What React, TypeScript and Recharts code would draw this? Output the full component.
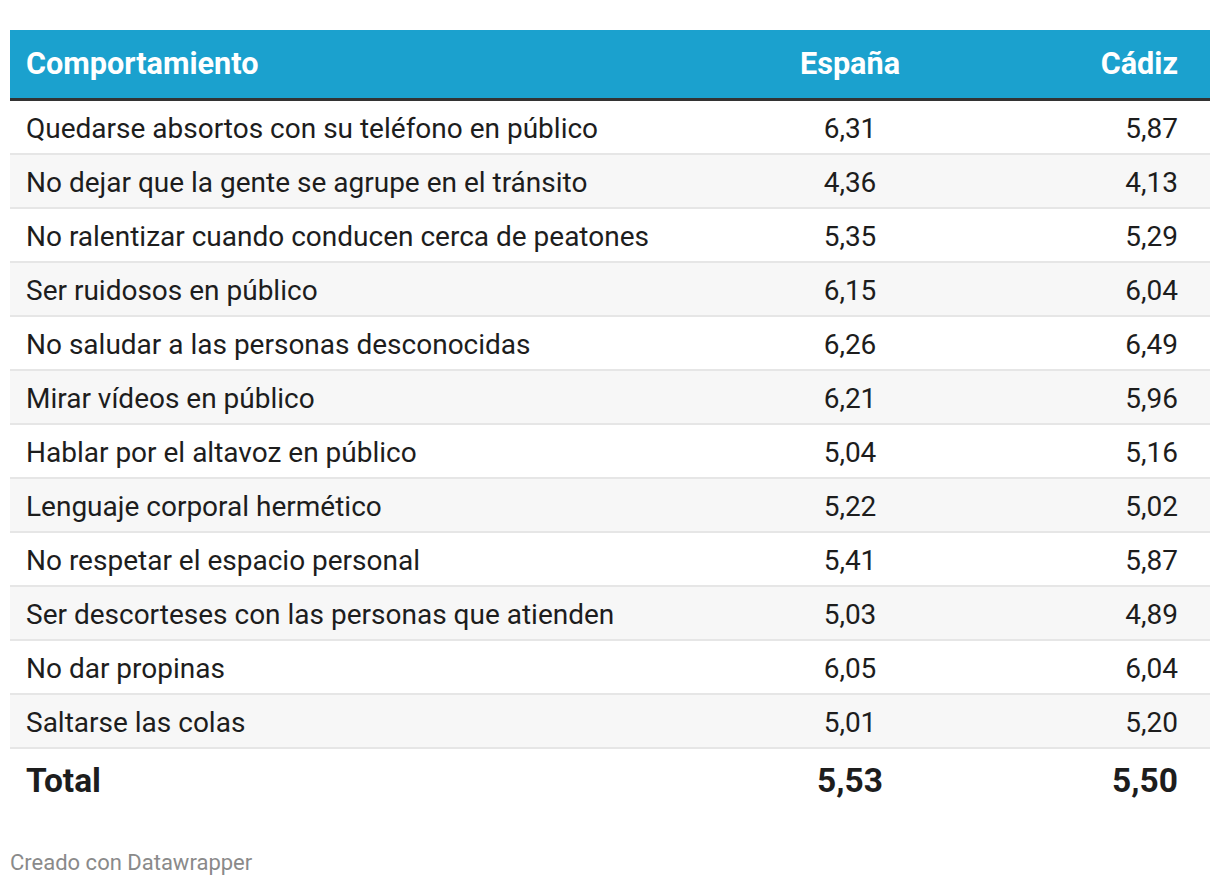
import { ComposedChart, Bar, XAxis, YAxis, LabelList } from "recharts";

const categories = [
    "Quedarse absortos con su teléfono en público",
    "No dejar que la gente se agrupe en el tránsito",
    "No ralentizar cuando conducen cerca de peatones",
    "Ser ruidosos en público",
    "No saludar a las personas desconocidas",
    "Mirar vídeos en público",
    "Hablar por el altavoz en público",
    "Lenguaje corporal hermético",
    "No respetar el espacio personal",
    "Ser descorteses con las personas que atienden",
    "No dar propinas",
    "Saltarse las colas",
    "Total",
];
const espana = [6.31, 4.36, 5.35, 6.15, 6.26, 6.21, 5.04, 5.22, 5.41, 5.03, 6.05, 5.01, 5.53];
const cadiz = [5.87, 4.13, 5.29, 6.04, 6.49, 5.96, 5.16, 5.02, 5.87, 4.89, 6.04, 5.2, 5.5];
const headers = ["Comportamiento", "España", "Cádiz"];

const rows = categories.map((name, i) => ({
    name,
    espana: espana[i],
    cadiz: cadiz[i],
    band: 1,
}));

const lastIndex = categories.length - 1;
const fmt = (v: number) => v.toFixed(2).replace(".", ",");
const TEXT = "#1d1d1d";

const RowShape = (props: any) => {
    const { x, y, width, height, index, payload } = props;
    const isTotal = index === lastIndex;
    return (
        <g>
            <rect x={x} y={y} width={width} height={height} fill={index % 2 === 1 ? "#f7f7f7" : "#ffffff"} />
            {!isTotal && <rect x={x} y={y + height - 2} width={width} height={2} fill="#e6e6e6" />}
            <text
                x={x + 16}
                y={y + (isTotal ? 43 : 37)}
                fill={TEXT}
                fontSize={isTotal ? 33.5 : 28}
                fontWeight={isTotal ? 700 : 400}
            >
                {payload.name}
            </text>
        </g>
    );
};

const makeLabel = (col: "center" | "right") => (props: any) => {
    const { x, y, width, value, index } = props;
    const isTotal = index === lastIndex;
    const px = col === "center" ? x + width * 0.7 : x + width - 32;
    return (
        <text
            x={px}
            y={y + (isTotal ? 43 : 37)}
            textAnchor={col === "center" ? "middle" : "end"}
            fill={TEXT}
            fontSize={isTotal ? 33.5 : 28}
            fontWeight={isTotal ? 700 : 400}
        >
            {fmt(value)}
        </text>
    );
};

export default function App() {
    return (
        <div style={{ position: "absolute", left: 0, top: 0, width: 1220, height: 886, background: "#fff", fontFamily: "Roboto" }}>
            <svg width={1220} height={101} style={{ position: "absolute", left: 0, top: 0 }}>
                <rect x={10} y={30} width={1200} height={68} fill="#1ba1ce" />
                <rect x={10} y={98} width={1200} height={3} fill="#333333" />
                <text x={26} y={74} fill="#fff" fontSize={30.6} fontWeight={700} fontFamily="Roboto">{headers[0]}</text>
                <text x={850} y={74} fill="#fff" fontSize={30.6} fontWeight={700} textAnchor="middle" fontFamily="Roboto">{headers[1]}</text>
                <text x={1178} y={74} fill="#fff" fontSize={30.6} fontWeight={700} textAnchor="end" fontFamily="Roboto">{headers[2]}</text>
            </svg>
            <div style={{ position: "absolute", left: 10, top: 101 }}>
                <ComposedChart
                    layout="vertical"
                    width={1200}
                    height={54 * rows.length}
                    data={rows}
                    margin={{ top: 0, right: 0, bottom: 0, left: 0 }}
                    barCategoryGap={0}
                >
                    <XAxis type="number" domain={[0, 1]} hide />
                    <YAxis type="category" dataKey="name" hide />
                    <Bar dataKey="band" shape={RowShape} isAnimationActive={false}>
                        <LabelList dataKey="espana" content={makeLabel("center")} />
                        <LabelList dataKey="cadiz" content={makeLabel("right")} />
                    </Bar>
                </ComposedChart>
            </div>
            <svg width={1220} height={40} style={{ position: "absolute", left: 0, top: 840 }}>
                <text x={10} y={30} fill="#8a8a8a" fontSize={22} fontFamily="Roboto">Creado con Datawrapper</text>
            </svg>
        </div>
    );
}
